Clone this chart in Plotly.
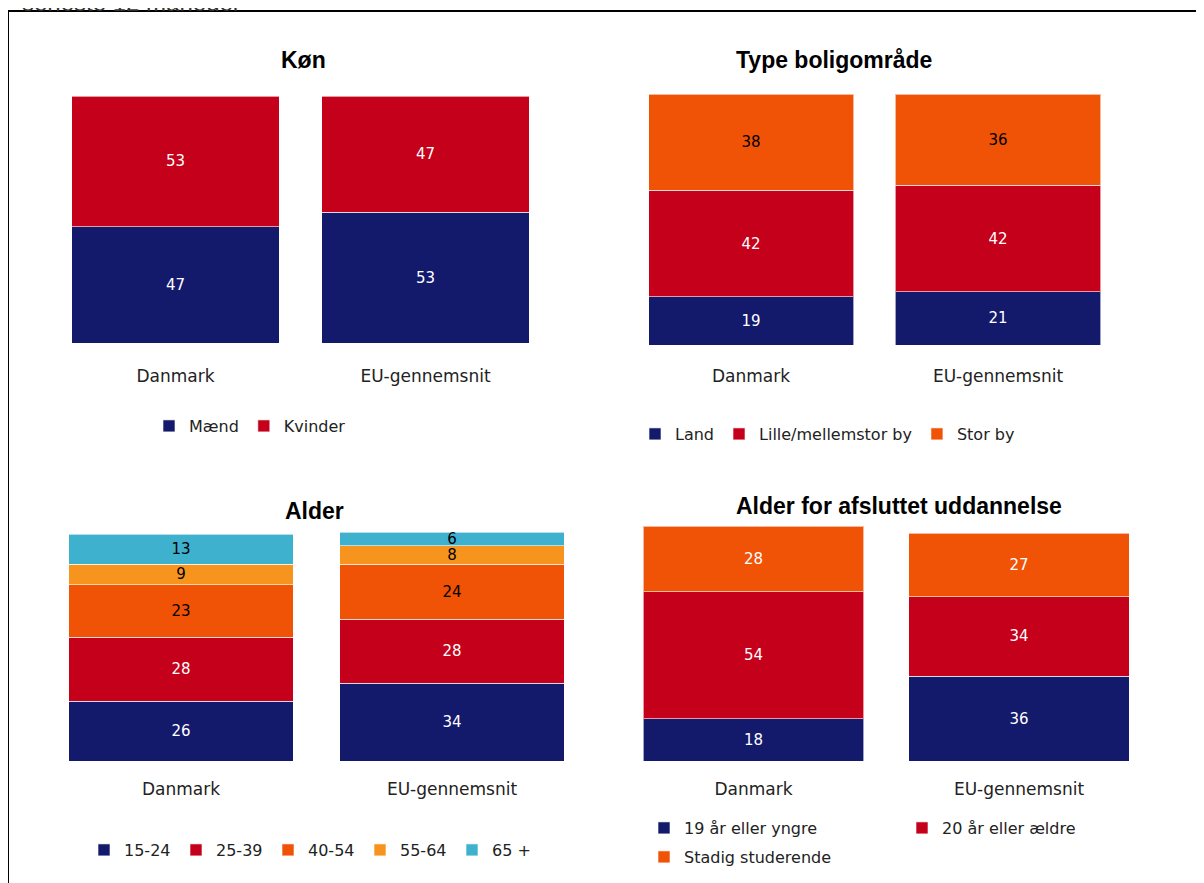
import plotly.graph_objects as go

W, H = 1204, 883
OFF = 8  # page body margin

categories = ["Danmark", "EU-gennemsnit"]

# Køn
kon_names = ["Mænd", "Kvinder"]
kon_maend = [47, 53]
kon_kvinder = [53, 47]

# Type boligområde
bolig_names = ["Land", "Lille/mellemstor by", "Stor by"]
bolig_land = [19, 21]
bolig_lille = [42, 42]
bolig_stor = [38, 36]

# Alder
alder_names = ["15-24", "25-39", "40-54", "55-64", "65 +"]
alder_15_24 = [26, 34]
alder_25_39 = [28, 28]
alder_40_54 = [23, 24]
alder_55_64 = [9, 8]
alder_65 = [13, 6]

# Alder for afsluttet uddannelse
udd_names = ["19 år eller yngre", "20 år eller ældre", "Stadig studerende"]
udd_19 = [18, 36]
udd_20 = [54, 34]
udd_stud = [28, 27]

titles = ["Køn", "Type boligområde", "Alder", "Alder for afsluttet uddannelse"]

NAVY = "#131A6B"
RED = "#C5001A"
ORANGE = "#F05206"
LORANGE = "#F7941E"
CYAN = "#3EB1CE"

FONT = "DejaVu Sans"


def px_x(p):
    return (p - OFF) / W


def px_y(p):
    return 1 - (p - OFF) / H


fig = go.Figure()


def add_bar(vals, name, color, axis_idx, legend, txtcolor):
    sfx = "" if axis_idx == 1 else str(axis_idx)
    fig.add_trace(go.Bar(
        x=categories, y=vals, name=name,
        marker=dict(color=color, line=dict(color="rgba(255,255,255,0.6)", width=1)),
        text=vals, texttemplate="%{text}", textposition="inside",
        insidetextanchor="middle", textangle=0,
        textfont=dict(family=FONT, size=15, color=txtcolor),
        xaxis="x" + sfx, yaxis="y" + sfx, legend=legend,
        hoverinfo="skip",
    ))


add_bar(kon_maend, kon_names[0], NAVY, 1, "legend", "white")
add_bar(kon_kvinder, kon_names[1], RED, 1, "legend", "white")

add_bar(bolig_land, bolig_names[0], NAVY, 2, "legend2", "white")
add_bar(bolig_lille, bolig_names[1], RED, 2, "legend2", "white")
add_bar(bolig_stor, bolig_names[2], ORANGE, 2, "legend2", "black")

add_bar(alder_15_24, alder_names[0], NAVY, 3, "legend3", "white")
add_bar(alder_25_39, alder_names[1], RED, 3, "legend3", "white")
add_bar(alder_40_54, alder_names[2], ORANGE, 3, "legend3", "black")
add_bar(alder_55_64, alder_names[3], LORANGE, 3, "legend3", "black")
add_bar(alder_65, alder_names[4], CYAN, 3, "legend3", "black")

add_bar(udd_19, udd_names[0], NAVY, 4, "legend4", "white")
add_bar(udd_20, udd_names[1], RED, 4, "legend4", "white")
add_bar(udd_stud, udd_names[2], ORANGE, 4, "legend5", "white")

# panel geometry (pixels): x domain, y bottom, y of 100%
panels = [
    ((50.5, 550.5), 343, 96, 21),
    ((627.5, 1121.5), 345, 91.5, 19),
    ((45.5, 587.5), 761, 532, 16),
    ((620.75, 1151.75), 761, 526, 16),
]

layout = dict(
    width=W, height=H,
    margin=dict(l=0, r=0, t=0, b=0),
    paper_bgcolor="white", plot_bgcolor="white",
    barmode="stack", bargap=0.17,
    showlegend=True,
    uniformtext=dict(minsize=15, mode="show"),
    font=dict(family=FONT, size=16, color="#222"),
)

for i, ((x0, x1), yb, yt, standoff) in enumerate(panels, start=1):
    sfx = "" if i == 1 else str(i)
    layout["xaxis" + sfx] = dict(
        domain=[px_x(x0), px_x(x1)], range=[-0.5, 1.5],
        anchor="y" + sfx, showgrid=False, zeroline=False, showline=False,
        ticks="", ticklabelstandoff=standoff,
        tickfont=dict(family=FONT, size=17, color="#222"),
        fixedrange=True,
    )
    layout["yaxis" + sfx] = dict(
        domain=[px_y(yb), px_y(yt)], range=[0, 100],
        anchor="x" + sfx, visible=False, fixedrange=True,
    )

leg_common = dict(orientation="h", xanchor="left", yanchor="middle",
                  bgcolor="rgba(0,0,0,0)", traceorder="normal",
                  font=dict(family=FONT, size=16, color="#222"))
layout["legend"] = dict(leg_common, x=px_x(149), y=px_y(426))
layout["legend2"] = dict(leg_common, x=px_x(635), y=px_y(434))
layout["legend3"] = dict(leg_common, x=px_x(84), y=px_y(850), entrywidth=47)
layout["legend4"] = dict(leg_common, x=px_x(644), y=px_y(828), entrywidth=213)
layout["legend5"] = dict(leg_common, x=px_x(644), y=px_y(857))

fig.update_layout(**layout)

title_pos = [(303, 60), (834, 60), (314, 511), (899, 506)]
for t, (tx, ty) in zip(titles, title_pos):
    fig.add_annotation(text="<b>" + t + "</b>", x=px_x(tx), y=px_y(ty),
                       xref="paper", yref="paper", showarrow=False,
                       xanchor="center", yanchor="middle",
                       font=dict(family="Liberation Sans", size=23, color="black"))

# partially visible heading above the frame
fig.add_annotation(text="seneste 12 måneder", x=px_x(20), y=px_y(2),
                   xref="paper", yref="paper", showarrow=False,
                   xanchor="left", yanchor="middle",
                   font=dict(family="Liberation Sans", size=24, color="#333"))

# frame
fig.add_shape(type="rect", xref="paper", yref="paper",
              x0=px_x(8), x1=px_x(1215), y0=px_y(11), y1=px_y(900),
              line=dict(color="black", width=2), fillcolor="rgba(0,0,0,0)")

fig.write_html("out.html")
